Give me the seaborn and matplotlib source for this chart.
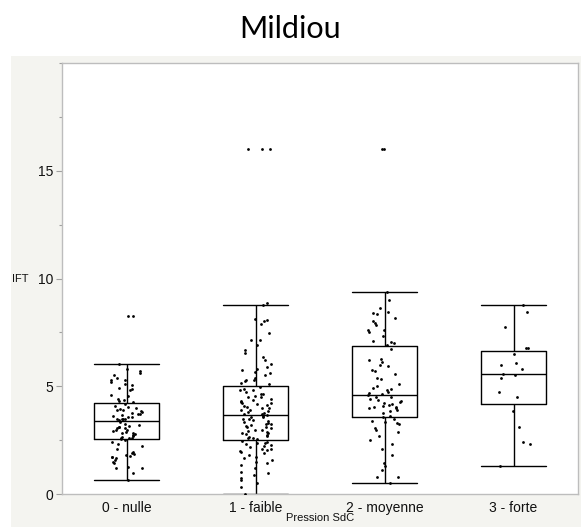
import numpy as np
import pandas as pd
import matplotlib
matplotlib.use("Agg")
import matplotlib.pyplot as plt
from matplotlib.patches import Rectangle
from matplotlib.ticker import MultipleLocator
import seaborn as sns

# ---- data ----
categories = ["0 - nulle", "1 - faible", "2 - moyenne", "3 - forte"]

ift_nulle = [8.24, 8.24, 6.02, 5.82, 5.71, 5.62, 5.51, 5.40, 5.31, 5.28, 5.20, 5.12,
             5.05, 4.94, 4.89, 4.81, 4.61, 4.55, 4.43, 4.35, 4.32, 4.27, 4.17, 4.07,
             4.04, 4.01, 3.96, 3.92, 3.90, 3.86, 3.81, 3.76, 3.73, 3.70, 3.66, 3.62,
             3.58, 3.55, 3.50, 3.50, 3.47, 3.46, 3.42, 3.35, 3.27, 3.19, 3.15, 3.12,
             3.09, 3.04, 3.04, 2.99, 2.96, 2.93, 2.88, 2.84, 2.81, 2.78, 2.73, 2.68,
             2.65, 2.62, 2.62, 2.58, 2.53, 2.50, 2.42, 2.31, 2.22, 2.07, 1.96, 1.91,
             1.85, 1.80, 1.76, 1.73, 1.70, 1.65, 1.57, 1.50, 1.42, 1.26, 1.22, 1.19,
             0.99, 0.65]

ift_faible = [16.0, 16.0, 16.0, 8.88, 8.76, 8.13, 8.09, 8.02, 7.90, 7.47, 7.16, 7.13,
              6.90, 6.67, 6.54, 6.35, 6.20, 6.05, 5.90, 5.82, 5.74, 5.66, 5.62, 5.51,
              5.40, 5.31, 5.30, 5.25, 5.15, 5.09,
              4.97, 4.89, 4.84, 4.81, 4.74, 4.66, 4.63, 4.54, 4.51, 4.50, 4.43, 4.38,
              4.32, 4.27, 4.23, 4.20, 4.17, 4.12, 4.07, 4.04, 4.01, 3.97, 3.92, 3.89,
              3.86, 3.81, 3.77, 3.73, 3.70,
              3.66, 3.61, 3.58, 3.55, 3.50, 3.46, 3.43, 3.39, 3.35, 3.30, 3.27, 3.24,
              3.19, 3.15, 3.12, 3.09, 3.04, 2.99, 2.96, 2.93, 2.89, 2.84, 2.81, 2.78,
              2.73, 2.68, 2.65, 2.62, 2.58, 2.53,
              2.47, 2.42, 2.38, 2.35, 2.31, 2.27, 2.22, 2.19, 2.11, 2.07, 2.04, 2.01,
              1.96, 1.88, 1.80, 1.73, 1.65, 1.57, 1.50, 1.42, 1.34, 1.19, 1.03, 0.96,
              0.88, 0.72, 0.65, 0.52, 0.34, 0.0]

ift_moyenne = [16.0, 16.0, 9.36, 8.98, 8.63, 8.44, 8.40, 8.36, 8.15, 8.02, 7.93, 7.82,
               7.62, 7.62, 7.50, 7.31, 7.10, 7.05, 7.01, 6.90,
               6.71, 6.25, 6.20, 6.13, 6.00, 5.94, 5.77, 5.71, 5.59, 5.36, 5.32, 5.09,
               5.00, 4.94, 4.85, 4.81, 4.74, 4.69, 4.63, 4.58,
               4.51, 4.48, 4.43, 4.35, 4.30, 4.27, 4.20, 4.17, 4.12, 4.07, 4.04, 4.04,
               4.01, 3.97, 3.92, 3.86, 3.75, 3.61, 3.55,
               3.46, 3.40, 3.35, 3.30, 3.24, 3.04, 2.99, 2.89, 2.70, 2.50, 2.31, 2.10,
               1.81, 1.42, 1.30, 1.11, 0.80, 0.77, 0.49]

ift_forte = [8.77, 8.46, 7.73, 6.79, 6.76, 6.51, 6.08, 5.97, 5.80, 5.59, 5.51, 5.40,
             4.75, 4.51, 3.84, 3.10, 2.41, 2.30, 1.30]

title = "Mildiou"
x_label = "Pression SdC"
y_label = "IFT"

# ---- tidy table ----
df = pd.DataFrame({
    "Pression SdC": (
        [categories[0]] * len(ift_nulle) + [categories[1]] * len(ift_faible)
        + [categories[2]] * len(ift_moyenne) + [categories[3]] * len(ift_forte)
    ),
    "IFT": ift_nulle + ift_faible + ift_moyenne + ift_forte,
})

sns.set_style("white")
plt.rcParams["font.family"] = ["Liberation Sans", "DejaVu Sans"]

W, H = 581, 530
fig = plt.figure(figsize=(W / 100, H / 100), dpi=100)
fig.patch.set_facecolor("white")

# light grey report panel
fig.patches.append(Rectangle((11 / W, 1 - 527 / H), (W - 11) / W, (527 - 56) / H,
                             transform=fig.transFigure, facecolor="#f4f4f0",
                             edgecolor="none", zorder=-5))

left, right, top, bottom = 62, 578, 63, 494
ax = fig.add_axes([left / W, 1 - bottom / H, (right - left) / W, (bottom - top) / H])
ax.set_facecolor("white")

sns.boxplot(data=df, x="Pression SdC", y="IFT", order=categories, ax=ax,
            width=0.5, fill=False, color="black", linecolor="black", linewidth=1.0,
            showfliers=False, whis=1.5, capwidths=0.5,
            boxprops=dict(color="black"), whiskerprops=dict(color="black"),
            capprops=dict(color="black"),
            medianprops=dict(color="black", linewidth=1.0))

np.random.seed(3)
sns.stripplot(data=df, x="Pression SdC", y="IFT", order=categories, ax=ax,
              color="black", size=2.0, jitter=0.13, linewidth=0, zorder=4)

ax.set_xlim(-0.5, 3.5)
ax.set_ylim(0, 20)
ax.yaxis.set_major_locator(MultipleLocator(5))
ax.yaxis.set_minor_locator(MultipleLocator(2.5))
ax.set_yticks([0, 5, 10, 15])
ax.set_yticklabels(["0", "5", "10", "15"])

ax.tick_params(axis="y", which="major", length=4, width=0.8, color="#a0a0a0",
               pad=2, labelsize=10, labelcolor="#111111", left=True)
ax.tick_params(axis="y", which="minor", length=2.2, width=0.8, color="#a0a0a0", left=True)
ax.tick_params(axis="x", length=0, pad=5, labelsize=10, labelcolor="#111111")

for s in ax.spines.values():
    s.set_visible(True)
    s.set_color("#bdbdbd")
    s.set_linewidth(1.0)

ax.set_xlabel(x_label, fontsize=8, color="#111111")
ax.xaxis.set_label_coords(0.5, -(518 - bottom) / (bottom - top))
ax.xaxis.label.set_va("center")
ax.set_ylabel(y_label, fontsize=8, rotation=0, color="#111111", ha="left", va="center")
ax.yaxis.set_label_coords((12 - left) / (right - left), 0.5)

fig.text(0.5, 1 - 29 / H, title, ha="center", va="center", fontsize=22,
         family=["Lato", "DejaVu Sans"], color="black")

fig.savefig("out.png", dpi=100)
